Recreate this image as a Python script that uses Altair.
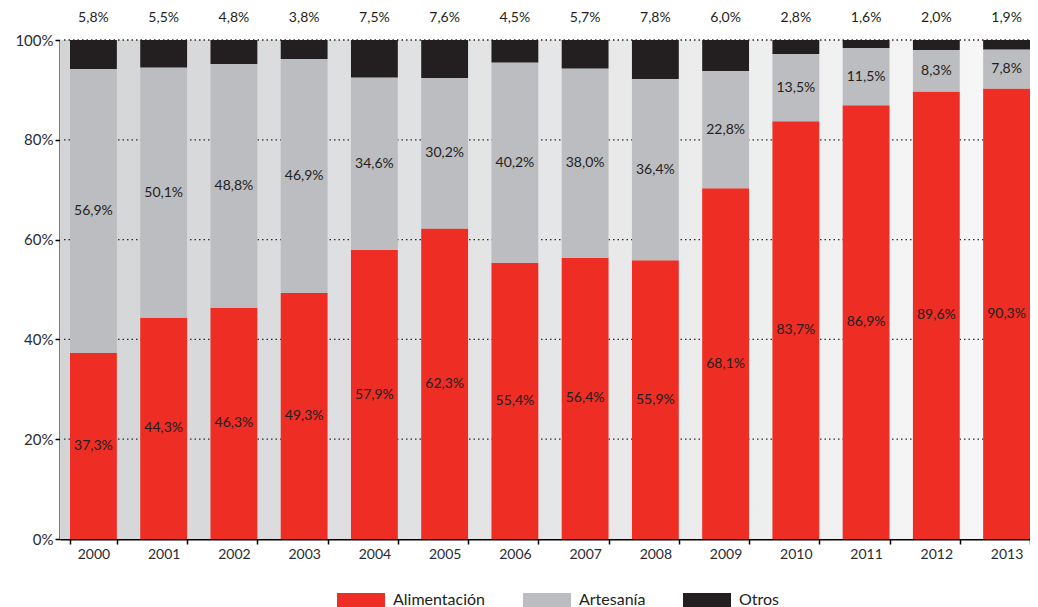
import altair as alt
import pandas as pd

years = [str(y) for y in range(2000, 2014)]
alimentacion = [37.3, 44.3, 46.3, 49.3, 57.9, 62.3, 55.4, 56.4, 55.9, 68.1, 83.7, 86.9, 89.6, 90.3]
artesania = [56.9, 50.1, 48.8, 46.9, 34.6, 30.2, 40.2, 38.0, 36.4, 22.8, 13.5, 11.5, 8.3, 7.8]
otros = [5.8, 5.5, 4.8, 3.8, 7.5, 7.6, 4.5, 5.7, 7.8, 6.0, 2.8, 1.6, 2.0, 1.9]
categories = ["Alimentación", "Artesanía", "Otros"]
colors = ["#ee2d24", "#bcbdc0", "#231f20"]
y_ticks = [0, 0.2, 0.4, 0.6, 0.8, 1.0]
grid_levels = [0.2, 0.4, 0.6, 0.8, 1.0]

W, H = 970, 499
FONT = "Lato"


def fmt(v):
    return f"{v:.1f}%".replace(".", ",")


rows = []
for i, y in enumerate(years):
    for k, (cat, vals) in enumerate(zip(categories, [alimentacion, artesania, otros])):
        rows.append({"year": y, "cat": cat, "value": vals[i], "order": k})
long_df = pd.DataFrame(rows)

lab_rows = []
for i, y in enumerate(years):
    tot = alimentacion[i] + artesania[i] + otros[i]
    lab_rows.append({"year": y, "pos": alimentacion[i] / 2 / tot, "label": fmt(alimentacion[i])})
    lab_rows.append({"year": y, "pos": (alimentacion[i] + artesania[i] / 2) / tot, "label": fmt(artesania[i])})
lab_df = pd.DataFrame(lab_rows)
top_df = pd.DataFrame({"year": years, "label": [fmt(v) for v in otros]})
grid_df = pd.DataFrame({"level": grid_levels})

xscale = alt.Scale(paddingInner=0.333, paddingOuter=0.0712, align=1)
yscale = alt.Scale(domain=[0, 1], nice=False)

yaxis = alt.Axis(values=y_ticks, format="%", grid=False, domainColor="#000", domainWidth=2,
                 tickColor="#000", tickSize=5, tickWidth=1.5, labelPadding=2,
                 labelFont=FONT, labelFontSize=15, labelColor="#2b2b35", title=None)
xaxis = alt.Axis(tickBand="extent", labelAngle=0, domainColor="#000", domainWidth=2,
                 tickColor="#000", tickSize=5, tickWidth=1.5, labelPadding=3,
                 labelFont=FONT, labelFontSize=14, labelColor="#2b2b35", grid=False, title=None)

gradient = alt.LinearGradient(
    gradient="linear",
    stops=[alt.GradientStop(color="#d3d4d6", offset=0), alt.GradientStop(color="#f8f8f8", offset=1)],
    x1=0, x2=1, y1=0, y2=0,
)

bg = alt.Chart(pd.DataFrame({"k": [0]})).mark_rect(color=gradient).encode(
    x=alt.value(0), x2=alt.value(W), y=alt.value(0), y2=alt.value(H)
)

grid = alt.Chart(grid_df).mark_rule(strokeDash=[1.5, 3], color="#2a2a2a", strokeWidth=1.3).encode(
    y=alt.Y("level:Q", scale=yscale, axis=yaxis), x=alt.value(4), x2=alt.value(W)
)

bars = alt.Chart(long_df).mark_bar(strokeWidth=0).encode(
    x=alt.X("year:N", scale=xscale, sort=years, axis=xaxis),
    y=alt.Y("value:Q", stack="normalize", scale=yscale, axis=yaxis),
    color=alt.Color("cat:N", scale=alt.Scale(domain=categories, range=colors),
                    legend=alt.Legend(title=None, orient="none", legendX=277, legendY=536,
                                      direction="horizontal", symbolType="M-1,-0.29H1V0.29H-1Z",
                                      symbolSize=2304, symbolStrokeWidth=0, labelFont=FONT,
                                      labelFontSize=16, labelColor="#222", labelOffset=8,
                                      columnPadding=37, padding=0)),
    order=alt.Order("order:Q"),
)

labels = alt.Chart(lab_df).mark_text(font=FONT, fontSize=14, color="#231f20").encode(
    x=alt.X("year:N", scale=xscale, sort=years, axis=xaxis),
    y=alt.Y("pos:Q", scale=yscale, axis=yaxis),
    text="label:N",
)

top = alt.Chart(top_df).mark_text(font=FONT, fontSize=14, color="#231f20", dy=-22).encode(
    x=alt.X("year:N", scale=xscale, sort=years, axis=xaxis),
    y=alt.Y(datum=1, scale=yscale, axis=yaxis),
    text="label:N",
)

chart = alt.layer(bg, grid, bars, labels, top).properties(
    width=W, height=H,
    autosize=alt.AutoSizeParams(type="none"),
    padding={"left": 52, "top": 32, "right": 0, "bottom": 76},
).configure_view(stroke=None)

chart.save("out.html", embed_options={"renderer": "svg", "actions": False})
